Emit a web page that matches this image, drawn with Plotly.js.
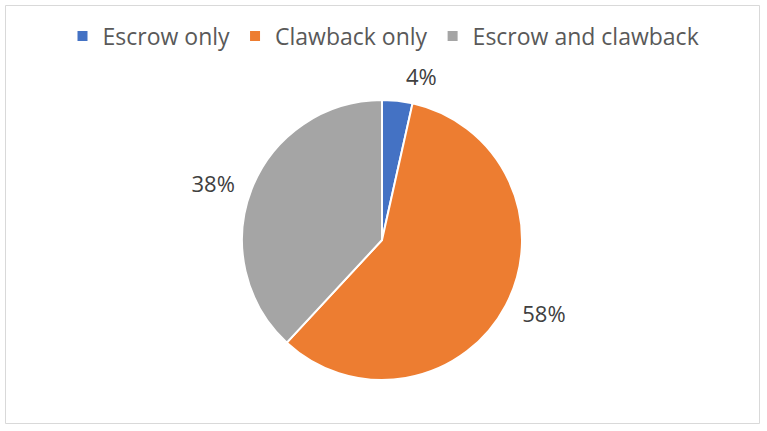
<!DOCTYPE html>
<html>
<head>
<meta charset="utf-8">
<script src="https://cdn.plot.ly/plotly-3.0.1.min.js"></script>
<style>html,body{margin:0;padding:0;background:#fff;}#chart{width:767px;height:431px;}</style>
</head>
<body>
<div id="chart"></div>
<script>
const categories = ["Escrow only", "Clawback only", "Escrow and clawback"];
const shares = [3.5, 58.4, 38.1];
const colors = ["#4472C4", "#ED7D31", "#A5A5A5"];

const W = 767, H = 431;
const cx = 382, cy = 240, r = 140, rLabel = 150;
const FONT = "'Open Sans', 'Noto Sans', sans-serif";

function domainFor(rad) {
  return {
    x: [(cx - rad) / W, (cx + rad) / W],
    y: [(H - cy - rad) / H, (H - cy + rad) / H]
  };
}

// visible pie (slices only)
const pieTrace = {
  type: "pie",
  labels: categories,
  values: shares,
  sort: false,
  direction: "clockwise",
  rotation: 0,
  marker: {colors: colors, line: {color: "#ffffff", width: 2}},
  textinfo: "none",
  hoverinfo: "label+percent",
  domain: domainFor(r)
};

// transparent copy, slightly larger, that only carries the outside percentage labels
const labelTrace = {
  type: "pie",
  labels: categories,
  values: shares,
  sort: false,
  direction: "clockwise",
  rotation: 0,
  showlegend: false,
  marker: {colors: ["rgba(0,0,0,0)", "rgba(0,0,0,0)", "rgba(0,0,0,0)"], line: {width: 0}},
  texttemplate: "%{percent:.0%}",
  textposition: "outside",
  textfont: {family: FONT, size: 22, color: "#404040"},
  hoverinfo: "skip",
  domain: domainFor(rLabel)
};

const layout = {
  width: W, height: H,
  margin: {l: 0, r: 0, t: 0, b: 0},
  paper_bgcolor: "#ffffff",
  showlegend: true,
  legend: {
    orientation: "h",
    x: 0.5, xanchor: "center",
    y: 1 - 36 / H, yanchor: "middle",
    font: {family: FONT, size: 23, color: "#595959"},
    traceorder: "normal"
  },
  shapes: [{
    type: "rect", xref: "paper", yref: "paper",
    x0: 5.5 / W, x1: 759.5 / W, y0: 7.5 / H, y1: (H - 5.5) / H,
    line: {color: "#d9d9d9", width: 1}, fillcolor: "rgba(0,0,0,0)"
  }]
};

Plotly.newPlot("chart", [pieTrace, labelTrace], layout, {displayModeBar: false, staticPlot: true});
</script>
</body>
</html>
